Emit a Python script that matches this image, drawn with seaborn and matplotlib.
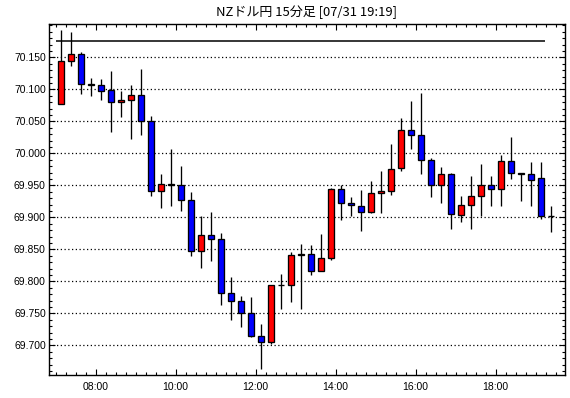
import matplotlib
matplotlib.use("Agg")
import matplotlib.pyplot as plt
import seaborn as sns
import numpy as np
import pandas as pd
from matplotlib.ticker import MultipleLocator, FixedLocator

# ---- data (15-minute candles starting 07:00) ----
opens = [70.077, 70.144, 70.155, 70.109, 70.106, 70.099, 70.080, 70.083, 70.091, 70.050,
         69.941, 69.952, 69.950, 69.927, 69.848, 69.873, 69.866, 69.781, 69.770, 69.750,
         69.715, 69.705, 69.795, 69.794, 69.841, 69.842, 69.816, 69.836, 69.945, 69.923,
         69.917, 69.908, 69.9375, 69.941, 69.977, 70.036, 70.028, 69.989, 69.950, 69.967,
         69.903, 69.919, 69.934, 69.950, 69.945, 69.9875, 69.970, 69.967, 69.961, 69.902]
highs = [70.192, 70.190, 70.158, 70.118, 70.116, 70.129, 70.098, 70.107, 70.132, 70.058,
         69.968, 70.007, 69.980, 69.940, 69.902, 69.908, 69.876, 69.807, 69.777, 69.775,
         69.733, 69.795, 69.811, 69.846, 69.858, 69.856, 69.874, 69.946, 69.950, 69.931,
         69.942, 69.956, 69.972, 70.014, 70.055, 70.081, 70.094, 69.992, 69.979, 69.970,
         69.933, 69.965, 69.983, 69.964, 69.998, 70.026, 69.970, 69.986, 69.986, 69.917]
lows = [70.077, 70.137, 70.093, 70.090, 70.083, 70.034, 70.057, 70.022, 70.029, 69.934,
        69.915, 69.917, 69.910, 69.840, 69.821, 69.832, 69.763, 69.739, 69.728, 69.713,
        69.663, 69.702, 69.757, 69.767, 69.757, 69.810, 69.816, 69.833, 69.896, 69.902,
        69.879, 69.906, 69.906, 69.935, 69.973, 70.006, 69.967, 69.931, 69.923, 69.881,
        69.892, 69.882, 69.902, 69.917, 69.917, 69.960, 69.926, 69.917, 69.898, 69.877]
closes = [70.144, 70.155, 70.109, 70.106, 70.098, 70.080, 70.083, 70.091, 70.050, 69.941,
          69.952, 69.951, 69.927, 69.848, 69.873, 69.866, 69.781, 69.770, 69.750, 69.715,
          69.705, 69.795, 69.794, 69.841, 69.842, 69.816, 69.836, 69.945, 69.923, 69.919,
          69.908, 69.9375, 69.941, 69.975, 70.036, 70.028, 69.989, 69.950, 69.967, 69.905,
          69.919, 69.934, 69.950, 69.945, 69.9875, 69.970, 69.967, 69.959, 69.902, 69.902]
ref_level = 70.175
y_ticks = [69.700, 69.750, 69.800, 69.850, 69.900, 69.950, 70.000, 70.050, 70.100, 70.150]
x_tick_labels = ["08:00", "10:00", "12:00", "14:00", "16:00", "18:00"]
title = "NZドル円 15分足 [07/31 19:19]"

df = pd.DataFrame({"open": opens, "high": highs, "low": lows, "close": closes})
df["pos"] = np.arange(len(df)) + 0.5          # slot centre, unit = 15 min from 07:00
df["bottom"] = df[["open", "close"]].min(axis=1)
df["height"] = (df["close"] - df["open"]).abs()
df["color"] = np.where(df["close"] >= df["open"], "#ff0000", "#0000ff")

sns.set_theme(style="white")
plt.rcParams["font.family"] = ["Liberation Sans", "DejaVu Sans"]

W, H = 570, 398
fig = plt.figure(figsize=(W / 100, H / 100), dpi=100)
fig.patch.set_facecolor("white")
ax = fig.add_axes([49.3 / W, (H - 375) / H, (565 - 49.3) / W, (375 - 24.3) / H])
ax.set_facecolor("white")

# grid
for yv in y_ticks:
    ax.axhline(yv, color="black", lw=0.9, linestyle=(0, (1, 2)), zorder=1)

# reference line
ax.hlines(ref_level, 0.0, 48.93, color="black", lw=1.1, zorder=2)

# wicks
ax.vlines(df["pos"], df["low"], df["high"], color="black", lw=0.95, zorder=3)
# bodies
ax.bar(df["pos"], df["height"], bottom=df["bottom"], width=0.62,
       color=df["color"], edgecolor="black", linewidth=0.95, zorder=4)

ax.set_xlim(-0.64, 50.93)
ax.set_ylim(69.6536, 70.2016)

ax.yaxis.set_major_locator(FixedLocator(y_ticks))
ax.set_yticklabels([f"{v:.3f}" for v in y_ticks])
ax.yaxis.set_minor_locator(MultipleLocator(0.01))
ax.xaxis.set_major_locator(FixedLocator([4, 12, 20, 28, 36, 44]))
ax.set_xticklabels(x_tick_labels)
ax.xaxis.set_minor_locator(MultipleLocator(1))

ax.tick_params(axis="both", which="both", direction="in", colors="black",
               top=True, right=True, bottom=True, left=True, labelsize=7.5)
ax.tick_params(axis="both", which="major", length=4, width=0.8)
ax.tick_params(axis="both", which="minor", length=2.2, width=0.8)
ax.tick_params(axis="y", pad=2.5)
ax.tick_params(axis="x", pad=5)

for s in ax.spines.values():
    s.set_color("black")
    s.set_linewidth(1.0)

fig.text(307 / W, 1 - 12 / H, title, ha="center", va="center", fontsize=9.4,
         family=["Noto Sans CJK JP", "DejaVu Sans"], color="black")

ax.set_xlabel("")
ax.set_ylabel("")
fig.savefig("out.png", dpi=100, facecolor="white")
